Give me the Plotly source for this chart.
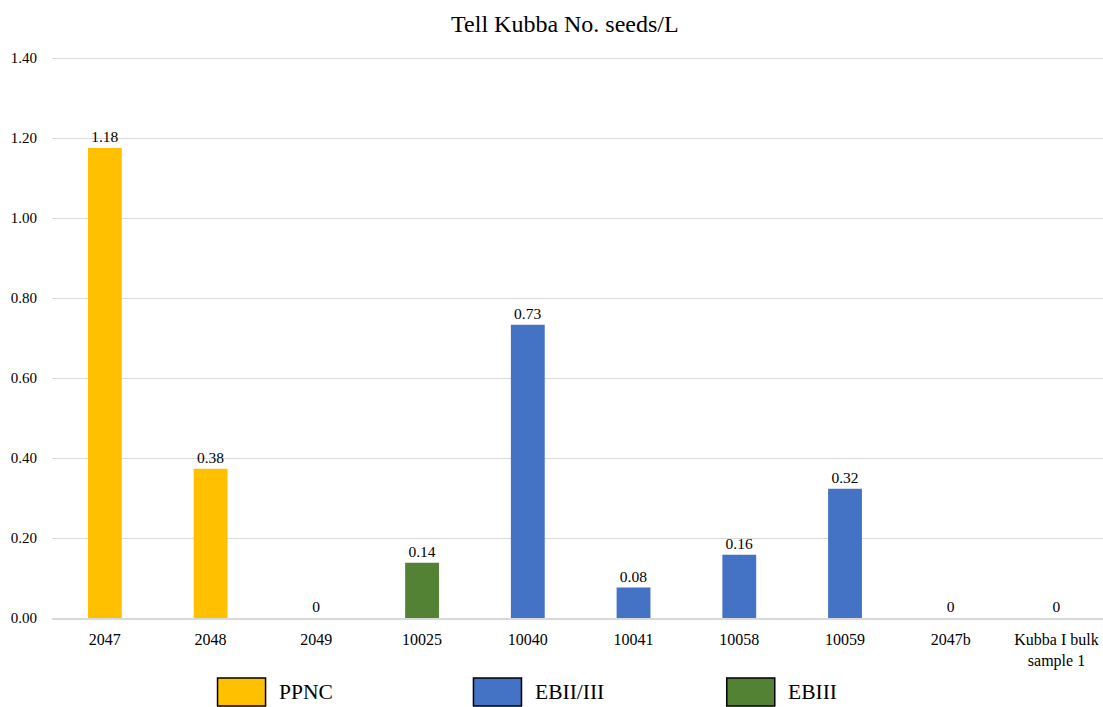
import plotly.graph_objects as go

categories = ["2047", "2048", "2049", "10025", "10040", "10041", "10058", "10059", "2047b", "Kubba I bulk<br>sample 1"]
values = [1.175, 0.373, 0.0, 0.138, 0.733, 0.076, 0.158, 0.323, 0.0, 0.0]
labels = ["1.18", "0.38", "0", "0.14", "0.73", "0.08", "0.16", "0.32", "0", "0"]
periods = ["PPNC", "PPNC", "PPNC", "EBIII", "EBII/III", "EBII/III", "EBII/III", "EBII/III", "", ""]
y_ticks = [0, 0.2, 0.4, 0.6, 0.8, 1.0, 1.2, 1.4]

period_colors = {"PPNC": "#FFC000", "EBII/III": "#4472C4", "EBIII": "#548235", "": "#4472C4"}
legend_items = ["PPNC", "EBII/III", "EBIII"]

FONT = "Liberation Serif, Times New Roman, serif"

fig = go.Figure()
fig.add_trace(go.Bar(
    x=categories, y=values,
    marker=dict(color=[period_colors[p] for p in periods], line=dict(width=0)),
    width=0.32,
    text=labels, textposition="outside", cliponaxis=False,
    textfont=dict(family=FONT, size=15.5, color="#000"),
    showlegend=False,
))

# custom legend boxes (in paper coordinates, below the plot)
plot_h = 707 - 54 - 89
def py(pix):
    return (618 - pix) / plot_h

legend_x = [0.1575, 0.401, 0.642]
for name, lx in zip(legend_items, legend_x):
    fig.add_shape(type="rect", xref="paper", yref="paper",
                  x0=lx, x1=lx + 0.0457, y0=py(706), y1=py(678),
                  fillcolor=period_colors[name], line=dict(color="#000", width=1.5))
    fig.add_annotation(xref="paper", yref="paper", x=lx + 0.0457 + 0.011, y=py(692),
                       text=name, showarrow=False, xanchor="left", yanchor="middle",
                       font=dict(family=FONT, size=21.5, color="#000"))

fig.update_layout(
    width=1103, height=707,
    margin=dict(l=52, r=0, t=54, b=89),
    paper_bgcolor="white", plot_bgcolor="white",
    title=dict(text="Tell Kubba No. seeds/L", x=0.488, xref="paper", y=0.966, yanchor="middle",
               font=dict(family=FONT, size=24, color="#000")),
    font=dict(family=FONT, color="#000"),
    xaxis=dict(range=[-0.5, 9.44], showline=True, linecolor="#d9d9d9", linewidth=1.5, ticks="",
               ticklabelstandoff=6,
               tickfont=dict(family=FONT, size=16, color="#000")),
    yaxis=dict(range=[0, 1.41], tickvals=y_ticks, tickformat=".2f",
               showgrid=True, gridcolor="#d9d9d9", gridwidth=1, zeroline=False,
               ticks="", ticklabelstandoff=14,
               tickfont=dict(family=FONT, size=15, color="#000")),
)

fig.write_html("out.html")
